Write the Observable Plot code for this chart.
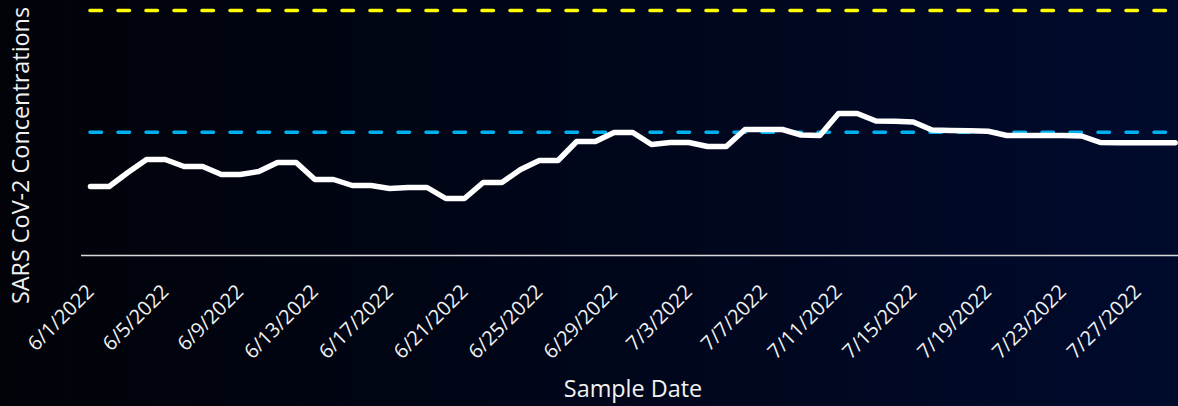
<!DOCTYPE html>
<html>
<head>
<meta charset="utf-8">
<script src="https://cdn.jsdelivr.net/npm/d3@7"></script>
<script src="https://cdn.jsdelivr.net/npm/@observablehq/plot@0.6"></script>
<style>
  html, body { margin: 0; padding: 0; }
  body { width: 1178px; height: 406px; overflow: hidden;
         background: linear-gradient(to right, #020309 0%, #000618 45%, #000a2c 100%); }
  #chart svg { display: block; }
</style>
</head>
<body>
<div id="chart"></div>
<script>
// Sample dates (daily)
const sampleDates = [
  "2022-06-01","2022-06-02","2022-06-03","2022-06-04","2022-06-05","2022-06-06","2022-06-07","2022-06-08",
  "2022-06-09","2022-06-10","2022-06-11","2022-06-12","2022-06-13","2022-06-14","2022-06-15","2022-06-16",
  "2022-06-17","2022-06-18","2022-06-19","2022-06-20","2022-06-21","2022-06-22","2022-06-23","2022-06-24",
  "2022-06-25","2022-06-26","2022-06-27","2022-06-28","2022-06-29","2022-06-30","2022-07-01","2022-07-02",
  "2022-07-03","2022-07-04","2022-07-05","2022-07-06","2022-07-07","2022-07-08","2022-07-09","2022-07-10",
  "2022-07-11","2022-07-12","2022-07-13","2022-07-14","2022-07-15","2022-07-16","2022-07-17","2022-07-18",
  "2022-07-19","2022-07-20","2022-07-21","2022-07-22","2022-07-23","2022-07-24","2022-07-25","2022-07-26",
  "2022-07-27","2022-07-28","2022-07-29"
];
// SARS CoV-2 concentrations (relative units)
const concentrations = [
  69, 69, 83, 96, 96, 89, 89, 81,
  81, 84, 93, 93, 76, 76, 70, 70,
  67, 68, 68, 57, 57, 73, 73, 86,
  95, 95, 114, 114, 123, 123, 111, 113,
  113, 109, 109, 126, 126, 126, 120.5, 120,
  142, 142, 134.5, 134.3, 133.5, 125.5, 125, 124.7,
  124.3, 120, 120, 120, 120, 119.5, 113, 112.7,
  112.7, 112.7, 112.7
];
// Threshold levels
const thresholdHigh = 245;
const thresholdLow = 123.3;
// Tick labels
const tickLabels = ["6/1/2022","6/5/2022","6/9/2022","6/13/2022","6/17/2022","6/21/2022","6/25/2022",
  "6/29/2022","7/3/2022","7/7/2022","7/11/2022","7/15/2022","7/19/2022","7/23/2022","7/27/2022"];
const xTitle = "Sample Date";
const yTitle = "SARS CoV-2 Concentrations";

const parseISO = d3.utcParse("%Y-%m-%d");
const parseMDY = d3.utcParse("%m/%d/%Y");
const rows = sampleDates.map((d, i) => ({date: parseISO(d), value: concentrations[i]}));
const first = rows[0].date, last = rows[rows.length - 1].date;
const DAY = 864e5;

const chart = Plot.plot({
  width: 1178,
  height: 406,
  marginLeft: 81,
  marginRight: 0,
  marginTop: 0,
  marginBottom: 151,
  style: {background: "transparent", color: "#f2f2f2", fontFamily: "'Open Sans', sans-serif", overflow: "visible"},
  x: {type: "utc", domain: [new Date(+first - 0.48 * DAY), new Date(+last + 0.18 * DAY)], axis: null},
  y: {domain: [0, 255], axis: null},
  marks: [
    Plot.ruleY([0], {stroke: "#d9d9d9", strokeWidth: 1.5}),
    Plot.ruleY([thresholdHigh], {x1: first, x2: new Date(+last + 0.18 * DAY), stroke: "#ffff00", strokeWidth: 3.5,
      strokeDasharray: "11.5,16.5", strokeLinecap: "round"}),
    Plot.ruleY([thresholdLow], {x1: first, x2: new Date(+last + 0.18 * DAY), stroke: "#00b0f0", strokeWidth: 3.5,
      strokeDasharray: "11.5,16.5", strokeLinecap: "round"}),
    Plot.line(rows, {x: "date", y: "value", stroke: "#ffffff", strokeWidth: 5.5, strokeLinejoin: "round", curve: "linear"}),
    Plot.text(tickLabels, {x: d => parseMDY(d), text: d => d, frameAnchor: "bottom", dy: 33, rotate: -45,
      textAnchor: "end", lineAnchor: "middle", fontSize: 20, fill: "#f2f2f2"}),
    Plot.text([xTitle], {text: d => d, frameAnchor: "bottom", dx: 3, dy: 134, lineAnchor: "middle",
      fontSize: 23.4, fill: "#f2f2f2"}),
    Plot.text([yTitle], {text: d => d, frameAnchor: "left", dx: -60, dy: 27.5, rotate: -90, lineAnchor: "middle",
      textAnchor: "middle", fontSize: 23.4, fill: "#f2f2f2"})
  ]
});
document.getElementById("chart").appendChild(chart);
</script>
</body>
</html>
